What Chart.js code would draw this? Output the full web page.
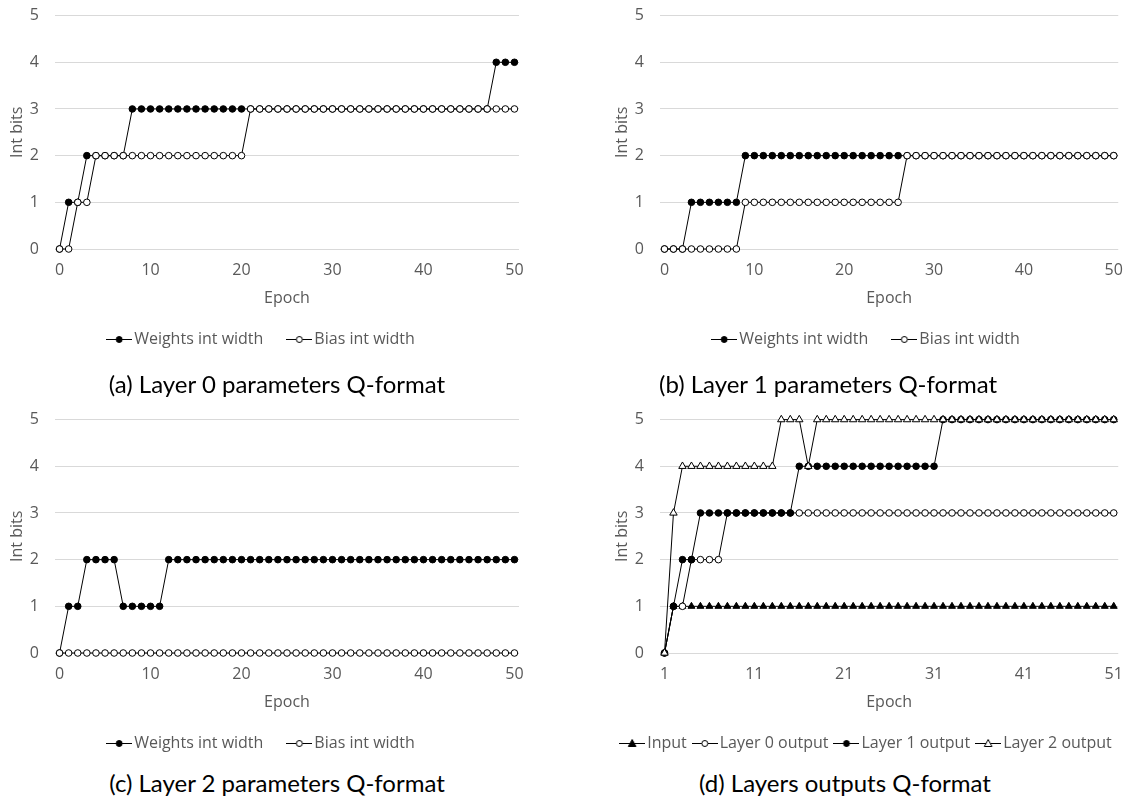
<!DOCTYPE html>
<html>
<head>
<meta charset="utf-8">
<script src="https://cdn.jsdelivr.net/npm/chart.js@4.4.1/dist/chart.umd.min.js"></script>
<style>
body { margin: 0; background: #fff; width: 1135px; height: 803px; position: relative; overflow: hidden; }
canvas { position: absolute; }
.cap { position: absolute; width: 600px; font-family: Lato, sans-serif; font-size: 24px; line-height: 28px; color: #000; text-align: center; white-space: nowrap; }
</style>
</head>
<body>
<canvas id="chartA" width="545" height="367" style="left:0;top:-10px"></canvas>
<canvas id="chartB" width="530" height="367" style="left:605px;top:-10px"></canvas>
<canvas id="chartC" width="545" height="367" style="left:0;top:394px"></canvas>
<canvas id="chartD" width="530" height="367" style="left:605px;top:394px"></canvas>
<div class="cap" style="left:-23px;top:370px">(a) Layer 0 parameters Q-format</div>
<div class="cap" style="left:528px;top:370px">(b) Layer 1 parameters Q-format</div>
<div class="cap" style="left:-23px;top:769px">(c) Layer 2 parameters Q-format</div>
<div class="cap" style="left:545px;top:769px">(d) Layers outputs Q-format</div>
<script>
// epochs on the x axis
var paramEpochs = [0,1,2,3,4,5,6,7,8,9,10,11,12,13,14,15,16,17,18,19,20,21,22,23,24,25,
    26,27,28,29,30,31,32,33,34,35,36,37,38,39,40,41,42,43,44,45,46,47,48,49,50];
var outputEpochs = [1,2,3,4,5,6,7,8,9,10,11,12,13,14,15,16,17,18,19,20,21,22,23,24,25,26,
    27,28,29,30,31,32,33,34,35,36,37,38,39,40,41,42,43,44,45,46,47,48,49,50,51];
var paramTicks = [0, 10, 20, 30, 40, 50];
var outputTicks = [1, 11, 21, 31, 41, 51];

// (a) layer 0 parameters
var layer0Weights = [0,1,1,2,2,2,2,2,3,3, 3,3,3,3,3,3,3,3,3,3, 3,3,3,3,3,3,3,3,3,3,
    3,3,3,3,3,3,3,3,3,3, 3,3,3,3,3,3,3,3,4,4, 4];
var layer0Bias = [0,0,1,1,2,2,2,2,2,2, 2,2,2,2,2,2,2,2,2,2, 2,3,3,3,3,3,3,3,3,3,
    3,3,3,3,3,3,3,3,3,3, 3,3,3,3,3,3,3,3,3,3, 3];
// (b) layer 1 parameters
var layer1Weights = [0,0,0,1,1,1,1,1,1,2, 2,2,2,2,2,2,2,2,2,2, 2,2,2,2,2,2,2,2,2,2,
    2,2,2,2,2,2,2,2,2,2, 2,2,2,2,2,2,2,2,2,2, 2];
var layer1Bias = [0,0,0,0,0,0,0,0,0,1, 1,1,1,1,1,1,1,1,1,1, 1,1,1,1,1,1,1,2,2,2,
    2,2,2,2,2,2,2,2,2,2, 2,2,2,2,2,2,2,2,2,2, 2];
// (c) layer 2 parameters
var layer2Weights = [0,1,1,2,2,2,2,1,1,1, 1,1,2,2,2,2,2,2,2,2, 2,2,2,2,2,2,2,2,2,2,
    2,2,2,2,2,2,2,2,2,2, 2,2,2,2,2,2,2,2,2,2, 2];
var layer2Bias = [0,0,0,0,0,0,0,0,0,0, 0,0,0,0,0,0,0,0,0,0, 0,0,0,0,0,0,0,0,0,0,
    0,0,0,0,0,0,0,0,0,0, 0,0,0,0,0,0,0,0,0,0, 0];
// (d) layers outputs
var inputOut = [0,1,1,1,1,1,1,1,1,1, 1,1,1,1,1,1,1,1,1,1, 1,1,1,1,1,1,1,1,1,1,
    1,1,1,1,1,1,1,1,1,1, 1,1,1,1,1,1,1,1,1,1, 1];
var layer0Out = [0,1,1,2,2,2,2,3,3,3, 3,3,3,3,3,3,3,3,3,3, 3,3,3,3,3,3,3,3,3,3,
    3,3,3,3,3,3,3,3,3,3, 3,3,3,3,3,3,3,3,3,3, 3];
var layer1Out = [0,1,2,2,3,3,3,3,3,3, 3,3,3,3,3,4,4,4,4,4, 4,4,4,4,4,4,4,4,4,4,
    4,5,5,5,5,5,5,5,5,5, 5,5,5,5,5,5,5,5,5,5, 5];
var layer2Out = [0,3,4,4,4,4,4,4,4,4, 4,4,4,5,5,5,4,5,5,5, 5,5,5,5,5,5,5,5,5,5,
    5,5,5,5,5,5,5,5,5,5, 5,5,5,5,5,5,5,5,5,5, 5];

var textGray = '#595959';
var textFont = { family: 'Open Sans', size: 16 };

// marker styles: [pointStyle, fill, radius]
var filledCircle = ['circle', '#000', 3.3];
var openCircle = ['circle', '#fff', 3.3];
var filledTriangle = ['triangle', '#000', 4];
var openTriangle = ['triangle', '#fff', 4.3];

// small "line + marker" icon for the legend
function legendIcon(marker) {
    var c = document.createElement('canvas');
    c.width = 26;
    c.height = 12;
    var g = c.getContext('2d');
    g.strokeStyle = '#000';
    g.lineWidth = 1;
    g.beginPath();
    g.moveTo(0, 6.5);
    g.lineTo(26, 6.5);
    g.stroke();
    g.fillStyle = marker[1];
    g.beginPath();
    if (marker[0] === 'circle') {
        g.arc(13, 6.5, 3, 0, Math.PI * 2);
    } else {
        g.moveTo(13, 2.5);
        g.lineTo(16.8, 9.5);
        g.lineTo(9.2, 9.5);
        g.closePath();
    }
    g.fill();
    g.stroke();
    return c;
}

function series(label, xs, ys, marker, order) {
    return {
        label: label,
        data: ys.map(function (v, i) { return { x: xs[i], y: v }; }),
        borderColor: '#000',
        borderWidth: 1,
        pointStyle: marker[0],
        pointRadius: marker[2],
        pointBackgroundColor: marker[1],
        pointBorderColor: '#000',
        pointBorderWidth: 1,
        tension: 0,
        fill: false,
        clip: false,
        order: order,
        icon: legendIcon(marker)
    };
}

// lay = [right padding, legend gap, x axis height, title bottom padding]
function buildChart(id, sets, xMin, xMax, xTicks, lay) {
    return new Chart(document.getElementById(id), {
        type: 'line',
        data: { datasets: sets },
        options: {
            responsive: false,
            animation: false,
            events: [],
            layout: { padding: { left: 8, top: 5.4, right: lay[0], bottom: 0 } },
            scales: {
                x: {
                    type: 'linear',
                    min: xMin,
                    max: xMax,
                    afterBuildTicks: function (scale) {
                        scale.ticks = xTicks.map(function (v) { return { value: v }; });
                    },
                    afterFit: function (scale) { scale.height = lay[2]; },
                    grid: { display: false, drawTicks: false },
                    border: { display: false },
                    ticks: { padding: 12, color: textGray, font: textFont, maxRotation: 0,
                        callback: function (v) { return v; } },
                    title: { display: true, text: 'Epoch', color: textGray, font: textFont,
                        padding: { top: 0, bottom: lay[3] } }
                },
                y: {
                    min: 0,
                    max: 5,
                    afterFit: function (scale) { scale.width = 47; },
                    grid: { color: '#d9d9d9', lineWidth: 1, drawTicks: false },
                    border: { display: false },
                    ticks: { stepSize: 1, padding: 16, color: textGray, font: textFont },
                    title: { display: true, text: 'Int bits', color: textGray, font: textFont,
                        padding: { top: 0, bottom: 0 } }
                }
            },
            plugins: {
                tooltip: { enabled: false },
                legend: {
                    position: 'bottom',
                    labels: {
                        color: textGray,
                        font: textFont,
                        padding: lay[1],
                        usePointStyle: true,
                        pointStyleWidth: 14,
                        sort: function (a, b) { return a.datasetIndex - b.datasetIndex; },
                        generateLabels: function (chart) {
                            return chart.data.datasets.map(function (ds, i) {
                                return {
                                    text: ds.label,
                                    datasetIndex: i,
                                    pointStyle: ds.icon,
                                    fillStyle: '#000',
                                    strokeStyle: '#000',
                                    lineWidth: 0,
                                    fontColor: textGray,
                                    hidden: false
                                };
                            });
                        }
                    }
                }
            }
        }
    });
}

// later series are drawn on top, as in the original
buildChart('chartA', [
    series('Weights int width', paramEpochs, layer0Weights, filledCircle, 1),
    series('Bias int width', paramEpochs, layer0Bias, openCircle, 0)
], -0.5, 50.5, paramTicks, [26, 29, 53, -6]);

buildChart('chartB', [
    series('Weights int width', paramEpochs, layer1Weights, filledCircle, 1),
    series('Bias int width', paramEpochs, layer1Bias, openCircle, 0)
], -0.5, 50.5, paramTicks, [11, 29, 53, -6]);

buildChart('chartC', [
    series('Weights int width', paramEpochs, layer2Weights, filledCircle, 1),
    series('Bias int width', paramEpochs, layer2Bias, openCircle, 0)
], -0.5, 50.5, paramTicks, [26, 29, 53, -6]);

buildChart('chartD', [
    series('Input', outputEpochs, inputOut, filledTriangle, 3),
    series('Layer 0 output', outputEpochs, layer0Out, openCircle, 2),
    series('Layer 1 output', outputEpochs, layer1Out, filledCircle, 1),
    series('Layer 2 output', outputEpochs, layer2Out, openTriangle, 0)
], 0.5, 51.5, outputTicks, [11, 11, 71, 12]);
</script>
</body>
</html>
